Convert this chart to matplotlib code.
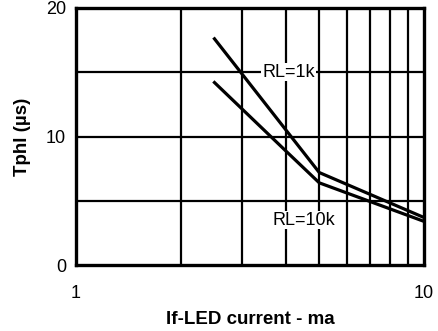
import matplotlib
matplotlib.use("Agg")
import matplotlib.pyplot as plt
from matplotlib.ticker import FixedLocator, NullFormatter

# If-LED current (mA) vs Tphl (us)
if_1k = [2.5, 5.0, 10.0]
tphl_1k = [17.6, 7.2, 3.7]
if_10k = [2.5, 4.0, 5.0, 10.0]
tphl_10k = [14.2, 8.9, 6.4, 3.4]

x_ticks = [1, 10]
y_ticks = [0, 10, 20]

plt.rcParams["font.family"] = ["Liberation Sans", "DejaVu Sans"]

fig = plt.figure(figsize=(4.39, 3.31), dpi=100)
ax = fig.add_axes([0.173, 0.199, 0.793, 0.777])

ax.set_xscale("log")
ax.set_xlim(1, 10)
ax.set_ylim(0, 20)

# grid
for x in range(2, 10):
    ax.axvline(x, color="black", lw=1.6, zorder=1)
for y in (5, 10, 15):
    ax.axhline(y, color="black", lw=1.6, zorder=1)

ax.plot(if_1k, tphl_1k, color="black", lw=2.3, zorder=3)
ax.plot(if_10k, tphl_10k, color="black", lw=2.3, zorder=3)

ax.text(4.08, 15.0, "RL=1k", fontsize=13, ha="center", va="center",
        bbox=dict(facecolor="white", edgecolor="none", pad=0.5), zorder=4)
ax.text(4.52, 3.5, "RL=10k", fontsize=13, ha="center", va="center",
        bbox=dict(facecolor="white", edgecolor="none", pad=0.5), zorder=4)

ax.xaxis.set_major_locator(FixedLocator(x_ticks))
ax.xaxis.set_minor_locator(FixedLocator([]))
ax.xaxis.set_minor_formatter(NullFormatter())
ax.set_xticklabels([str(v) for v in x_ticks])
ax.set_yticks(y_ticks)
ax.set_yticklabels([str(v) for v in y_ticks])
ax.tick_params(axis="both", length=0, labelsize=13)
ax.tick_params(axis="x", pad=14)
ax.tick_params(axis="y", pad=7)

for s in ax.spines.values():
    s.set_linewidth(2.4)

ax.set_xlabel("If-LED current - ma", fontsize=13.5, fontweight="bold", labelpad=7)
ax.set_ylabel("Tphl (\u00b5s)", fontsize=13.5, fontweight="bold", labelpad=11)

fig.savefig("out.png", dpi=100)
